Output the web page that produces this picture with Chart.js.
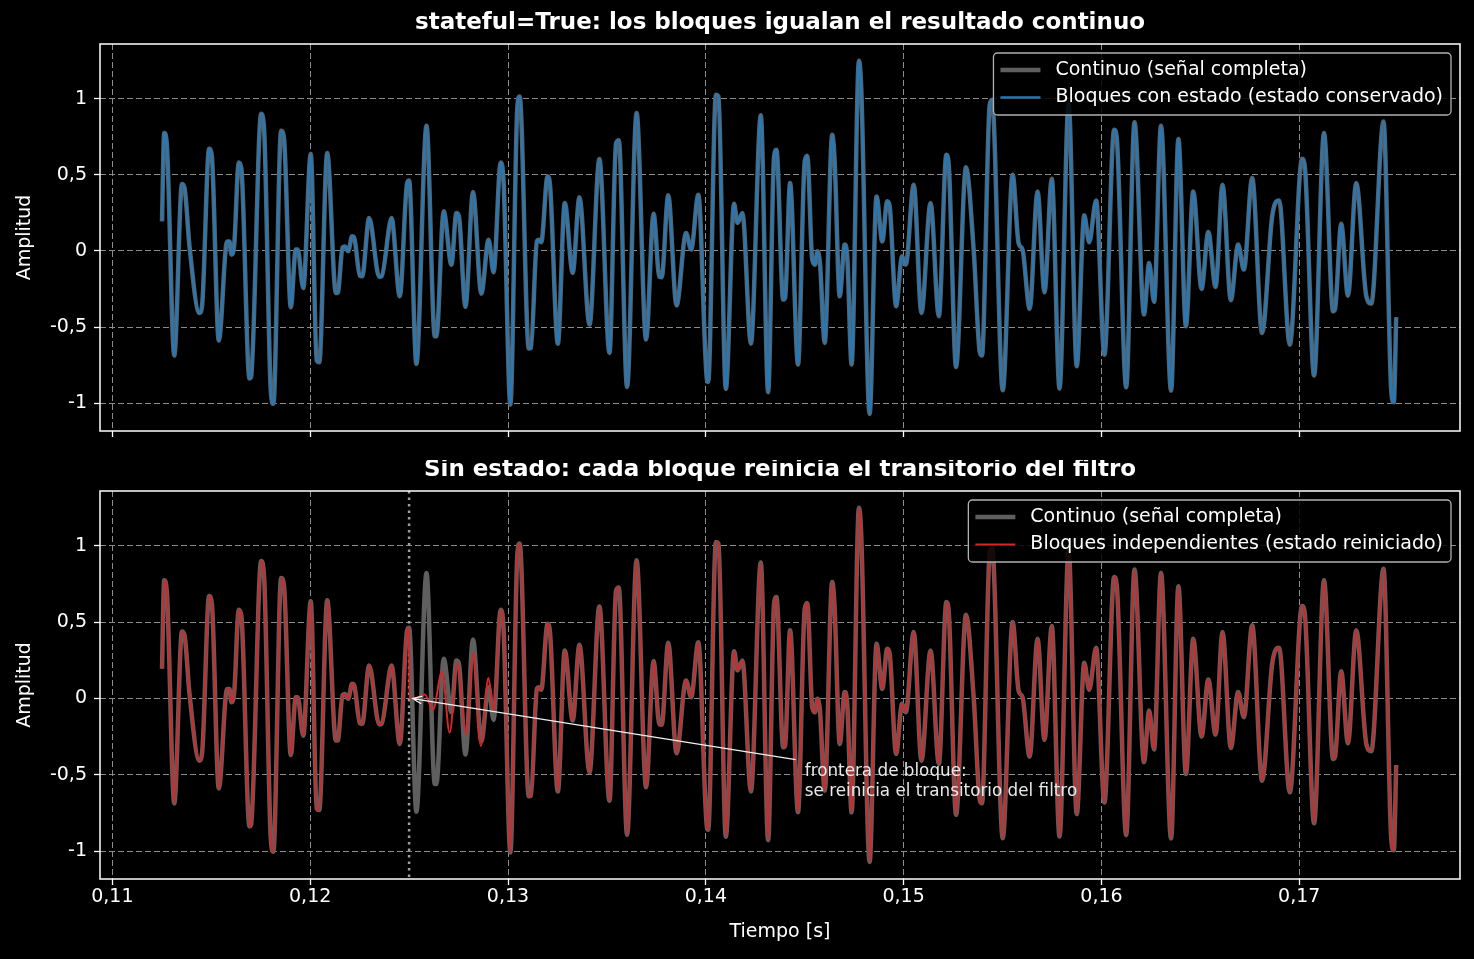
<!DOCTYPE html>
<html>
<head>
<meta charset="utf-8">
<script src="https://cdn.jsdelivr.net/npm/chart.js@4.4.0/dist/chart.umd.min.js"></script>
<style>
  body { margin: 0; background: #000; }
  canvas { position: absolute; left: 0; }
</style>
</head>
<body>
<canvas id="arriba" width="1474" height="460" style="top:0"></canvas>
<canvas id="abajo" width="1474" height="499" style="top:460px"></canvas>
<script>
// tiempo [s] y amplitud de la señal continua
const tiempo = [
  0.11251, 0.11262, 0.11276, 0.11313, 0.11352, 0.11365, 0.11390, 0.11440, 0.11454, 0.11489,
  0.11503, 0.11538, 0.11580, 0.11592, 0.11602, 0.11616, 0.11639, 0.11652, 0.11693, 0.11701,
  0.11752, 0.11767, 0.11801, 0.11814, 0.11853, 0.11868, 0.11902, 0.11927, 0.11937, 0.11965,
  0.12003, 0.12033, 0.12046, 0.12086, 0.12130, 0.12139, 0.12164, 0.12176, 0.12192, 0.12212,
  0.12223, 0.12251, 0.12263, 0.12298, 0.12349, 0.12361, 0.12403, 0.12411, 0.12453, 0.12490,
  0.12500, 0.12537, 0.12588, 0.12630, 0.12638, 0.12675, 0.12714, 0.12739, 0.12752, 0.12785,
  0.12823, 0.12865, 0.12902, 0.12927, 0.12963, 0.12978, 0.13012, 0.13047, 0.13059, 0.13105,
  0.13116, 0.13146, 0.13156, 0.13168, 0.13200, 0.13213, 0.13252, 0.13287, 0.13327, 0.13361,
  0.13412, 0.13462, 0.13513, 0.13546, 0.13560, 0.13602, 0.13650, 0.13698, 0.13736, 0.13765,
  0.13777, 0.13810, 0.13852, 0.13900, 0.13926, 0.13962, 0.14006, 0.14012, 0.14051, 0.14064,
  0.14101, 0.14143, 0.14160, 0.14185, 0.14228, 0.14278, 0.14315, 0.14345, 0.14357, 0.14391,
  0.14401, 0.14426, 0.14466, 0.14500, 0.14513, 0.14538, 0.14552, 0.14564, 0.14577, 0.14601,
  0.14639, 0.14651, 0.14677, 0.14702, 0.14715, 0.14737, 0.14774, 0.14786, 0.14828, 0.14863,
  0.14892, 0.14917, 0.14929, 0.14962, 0.14992, 0.15011, 0.15051, 0.15090, 0.15136, 0.15178,
  0.15216, 0.15228, 0.15265, 0.15315, 0.15354, 0.15385, 0.15396, 0.15435, 0.15447, 0.15501,
  0.15551, 0.15581, 0.15601, 0.15637, 0.15677, 0.15712, 0.15749, 0.15788, 0.15834, 0.15875,
  0.15913, 0.15938, 0.15973, 0.16015, 0.16064, 0.16077, 0.16125, 0.16167, 0.16215, 0.16241,
  0.16266, 0.16301, 0.16352, 0.16389, 0.16427, 0.16464, 0.16506, 0.16540, 0.16577, 0.16612,
  0.16654, 0.16691, 0.16720, 0.16762, 0.16812, 0.16863, 0.16898, 0.16952, 0.17014, 0.17028,
  0.17075, 0.17125, 0.17171, 0.17181, 0.17212, 0.17246, 0.17288, 0.17339, 0.17364, 0.17426,
  0.17465, 0.17478, 0.17490
];
const continuo = [
  0.195, 0.774, 0.686, -0.686, 0.439, 0.413, 0.030, -0.407, -0.352, 0.671,
  0.620, -0.588, 0.063, 0.063, -0.024, 0.040, 0.581, 0.544, -0.837, -0.828,
  0.900, 0.800, -0.920, -1.003, 0.789, 0.734, -0.369, 0.009, 0.009, -0.243,
  0.636, -0.720, -0.730, 0.643, -0.275, -0.275, 0.024, 0.030, -0.002, 0.096,
  0.085, -0.162, -0.166, 0.216, -0.170, -0.166, 0.185, 0.216, -0.297, 0.446,
  0.463, -0.741, 0.822, -0.560, -0.560, 0.260, -0.090, 0.249, 0.227, -0.367,
  0.387, -0.280, 0.074, -0.140, 0.581, 0.446, -1.008, 0.938, 1.014, -0.640,
  -0.636, 0.063, 0.074, 0.057, 0.490, 0.424, -0.608, 0.315, -0.144, 0.352,
  -0.483, 0.603, -0.669, 0.705, 0.726, -0.892, 0.905, -0.581, 0.245, -0.170,
  -0.172, 0.365, -0.358, 0.118, 0.009, 0.369, -0.845, -0.859, 1.025, 1.014,
  -0.905, 0.310, 0.184, 0.249, -0.608, 0.890, -0.927, 0.620, 0.664, -0.319,
  -0.308, 0.446, -0.745, 0.588, 0.625, -0.057, -0.090, -0.002, -0.079, -0.603,
  0.763, 0.600, -0.297, 0.042, -0.035, -0.745, 1.248, 1.058, -1.069, 0.358,
  0.063, 0.326, 0.297, -0.363, -0.035, -0.090, 0.435, -0.407, 0.315, -0.428,
  0.632, 0.567, -0.761, 0.549, 0.009, -0.664, -0.686, 0.960, 0.992, -0.914,
  0.501, 0.052, 0.009, -0.380, 0.391, -0.271, 0.474, -0.903, 0.970, -0.756,
  0.234, 0.057, 0.332, -0.680, 0.796, 0.748, -0.894, 0.844, -0.417, -0.079,
  -0.334, 0.822, -0.916, 0.734, -0.494, 0.391, -0.249, 0.125, -0.236, 0.435,
  -0.323, 0.042, -0.122, 0.479, -0.538, 0.227, 0.332, -0.614, 0.605, 0.555,
  -0.817, 0.774, -0.396, -0.380, 0.179, -0.293, 0.446, -0.297, -0.345, 0.850,
  -0.920, -0.993, -0.435
];

// tramo donde el bloque sin estado arranca de cero (transitorio)
const tiempoReinicio = [0.12502, 0.12529, 0.12579, 0.12621, 0.12667, 0.12705, 0.12744, 0.12789, 0.12825, 0.12863, 0.12901, 0.12927];
const bloqueReinicio = [0.000, 0.000, 0.026, -0.072, 0.179, -0.224, 0.233, -0.235, 0.300, -0.310, 0.135, -0.080];
const fronteraBloque = 0.125;
const finTransitorio = 0.1296;

const xTicks = [0.11, 0.12, 0.13, 0.14, 0.15, 0.16, 0.17];
const yTicks = [-1, -0.5, 0, 0.5, 1];

const FUENTE = '"DejaVu Sans", sans-serif';
const GRIS = '#5f5f5f';
const AZUL = '#2878b5';
const ROJO = '#d62728';

const puntosContinuo = tiempo.map((t, i) => ({x: t, y: continuo[i]}));
const puntosRojo = [];
tiempo.forEach((t, i) => { if (t <= fronteraBloque) puntosRojo.push({x: t, y: continuo[i]}); });
tiempoReinicio.forEach((t, i) => puntosRojo.push({x: t, y: bloqueReinicio[i]}));
tiempo.forEach((t, i) => { if (t >= finTransitorio) puntosRojo.push({x: t, y: continuo[i]}); });

const coma = v => String(v).replace('.', ',');

const decoracion = {
    id: 'decoracion',
    beforeDatasetsDraw(chart, args, opts) {
        if (!opts.frontera) return;
        const {ctx, chartArea: a, scales} = chart;
        const x = scales.x.getPixelForValue(opts.frontera);
        ctx.save();
        ctx.strokeStyle = '#a0a0a0';
        ctx.lineWidth = 2.5;
        ctx.setLineDash([2.5, 4]);
        ctx.beginPath();
        ctx.moveTo(x, a.top);
        ctx.lineTo(x, a.bottom);
        ctx.stroke();
        ctx.restore();
    },
    afterDatasetsDraw(chart, args, opts) {
        const {ctx, chartArea: a, scales} = chart;
        const cx = (a.left + a.right) / 2;
        ctx.save();

        // marco de los ejes
        ctx.strokeStyle = '#ffffff';
        ctx.lineWidth = 1.5;
        ctx.strokeRect(a.left, a.top, a.right - a.left, a.bottom - a.top);

        ctx.fillStyle = '#fff';
        ctx.textAlign = 'center';
        ctx.textBaseline = 'middle';
        ctx.font = 'bold 23px ' + FUENTE;
        ctx.fillText(opts.titulo, cx, a.top - 21);

        ctx.font = '19px ' + FUENTE;
        ctx.save();
        ctx.translate(25, (a.top + a.bottom) / 2);
        ctx.rotate(-Math.PI / 2);
        ctx.fillText('Amplitud', 0, 0);
        ctx.restore();
        if (opts.etiquetaX) ctx.fillText(opts.etiquetaX, cx, a.bottom + 53);

        // anotación con flecha
        if (opts.nota) {
            const tx = scales.x.getPixelForValue(opts.nota.texto[0]);
            const ty = scales.y.getPixelForValue(opts.nota.texto[1]);
            const px = scales.x.getPixelForValue(opts.nota.punto[0]);
            const py = scales.y.getPixelForValue(opts.nota.punto[1]);
            const sx = tx - 9, sy = ty - 12;
            ctx.strokeStyle = '#f0f0f0';
            ctx.lineWidth = 1.3;
            ctx.beginPath();
            ctx.moveTo(sx, sy);
            ctx.lineTo(px, py);
            const ang = Math.atan2(sy - py, sx - px);
            ctx.moveTo(px + 10 * Math.cos(ang + 0.4), py + 10 * Math.sin(ang + 0.4));
            ctx.lineTo(px, py);
            ctx.lineTo(px + 10 * Math.cos(ang - 0.4), py + 10 * Math.sin(ang - 0.4));
            ctx.stroke();
            ctx.fillStyle = '#e8e8e8';
            ctx.textAlign = 'left';
            ctx.font = '16.8px ' + FUENTE;
            opts.nota.lineas.forEach((l, i) => ctx.fillText(l, tx, ty + i * 20));
        }

        // leyenda
        ctx.font = '19px ' + FUENTE;
        const ds = chart.data.datasets.slice().sort((p, q) => q.order - p.order);
        const ancho = Math.max(...ds.map(d => ctx.measureText(d.label).width)) + 70;
        const bx = a.right - 9 - ancho, by = a.top + 9;
        ctx.fillStyle = 'rgba(0,0,0,0.85)';
        ctx.strokeStyle = '#b0b0b0';
        ctx.lineWidth = 1.3;
        ctx.beginPath();
        ctx.roundRect(bx, by, ancho, 62, 4);
        ctx.fill();
        ctx.stroke();
        ctx.textAlign = 'left';
        ds.forEach((d, i) => {
            const y = by + 17 + i * 27.5;
            ctx.strokeStyle = d.borderColor;
            ctx.lineWidth = d.borderWidth;
            ctx.beginPath();
            ctx.moveTo(bx + 7, y);
            ctx.lineTo(bx + 47, y);
            ctx.stroke();
            ctx.fillStyle = '#fff';
            ctx.fillText(d.label, bx + 62, y);
        });
        ctx.restore();
    }
};

function opciones(conEtiquetas, alturaX, margenArriba, decor) {
    return {
        responsive: false,
        animation: false,
        layout: {padding: {top: margenArriba, right: 14, left: 0, bottom: 0}},
        elements: {point: {radius: 0, hitRadius: 0}, line: {cubicInterpolationMode: 'monotone'}},
        plugins: {legend: {display: false}, tooltip: {enabled: false}, decoracion: decor},
        scales: {
            x: {
                type: 'linear',
                min: 0.109375,
                max: 0.178125,
                afterBuildTicks: s => { s.ticks = xTicks.map(v => ({value: v})); },
                afterFit: s => { s.height = alturaX; },
                ticks: {display: conEtiquetas, color: '#fff', font: {family: FUENTE, size: 19}, padding: 1, maxRotation: 0, callback: coma},
                grid: {color: '#8c8c8c', lineWidth: 1, tickColor: '#fff', tickLength: 6, tickWidth: 1.3, tickBorderDash: []},
                border: {display: false, dash: [6, 3]}
            },
            y: {
                min: -1.181,
                max: 1.358,
                afterBuildTicks: s => { s.ticks = yTicks.map(v => ({value: v})); },
                afterFit: s => { s.width = 100; },
                ticks: {color: '#fff', font: {family: FUENTE, size: 19}, padding: 7, callback: coma},
                grid: {color: '#8c8c8c', lineWidth: 1, tickColor: '#fff', tickLength: 6, tickWidth: 1.3, tickBorderDash: []},
                border: {display: false, dash: [6, 3]}
            }
        }
    };
}

new Chart(document.getElementById('arriba'), {
    type: 'line',
    data: {
        datasets: [
            {label: 'Bloques con estado (estado conservado)', data: puntosContinuo, borderColor: AZUL, borderWidth: 2.6, order: 0},
            {label: 'Continuo (señal completa)', data: puntosContinuo, borderColor: GRIS, borderWidth: 4.5, order: 1}
        ]
    },
    options: opciones(false, 29, 44, {titulo: 'stateful=True: los bloques igualan el resultado continuo'}),
    plugins: [decoracion]
});

new Chart(document.getElementById('abajo'), {
    type: 'line',
    data: {
        datasets: [
            {label: 'Bloques independientes (estado reiniciado)', data: puntosRojo, borderColor: ROJO, borderWidth: 2, order: 0},
            {label: 'Continuo (señal completa)', data: puntosContinuo, borderColor: GRIS, borderWidth: 4.5, order: 1}
        ]
    },
    options: opciones(true, 80, 31, {
        titulo: 'Sin estado: cada bloque reinicia el transitorio del filtro',
        etiquetaX: 'Tiempo [s]',
        frontera: fronteraBloque,
        nota: {
            punto: [0.12518, 0],
            texto: [0.1450, -0.478],
            lineas: ['frontera de bloque:', 'se reinicia el transitorio del filtro']
        }
    }),
    plugins: [decoracion]
});
</script>
</body>
</html>
